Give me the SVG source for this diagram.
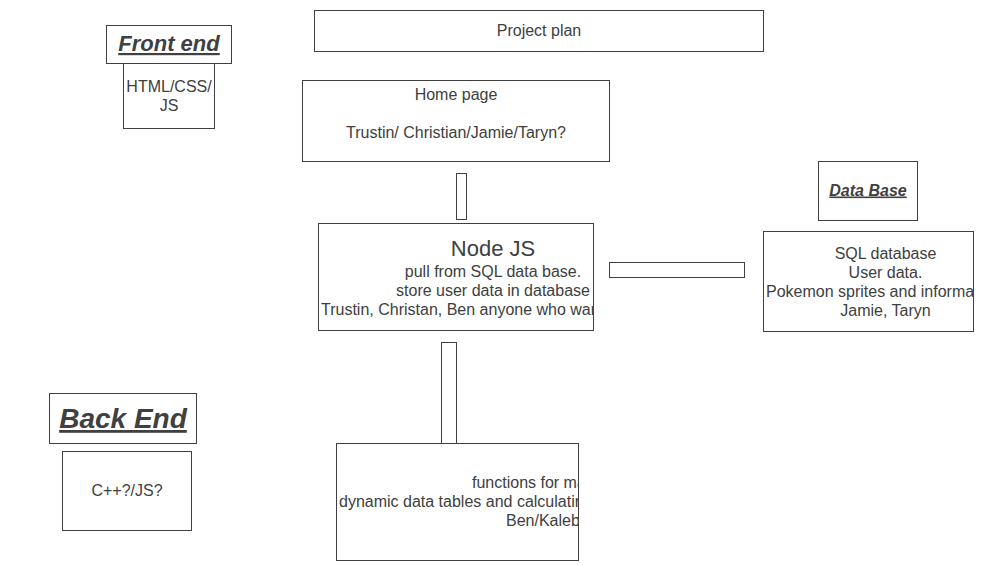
<svg xmlns="http://www.w3.org/2000/svg" width="983" height="565" viewBox="0 0 983 565">
<style>
rect{fill:#fff;stroke:#404040;stroke-width:1}
text{font-family:"Liberation Sans",Arial,sans-serif;font-size:16px;fill:#404040;text-anchor:middle}
.s{text-anchor:start}
.h{font-weight:bold;font-style:italic;text-decoration:underline}
</style>
<defs>
<clipPath id="cNode"><rect x="318" y="223" width="276" height="108"/></clipPath>
<clipPath id="cSql"><rect x="763" y="231" width="211" height="101"/></clipPath>
<clipPath id="cFn"><rect x="336" y="443" width="243" height="118"/></clipPath>
</defs>
<rect x="0" y="0" width="983" height="565" style="stroke:none"/>
<g id="connectors">
<rect x="456.5" y="173.5" width="10" height="46"/>
<rect x="609.5" y="262.5" width="135" height="15"/>
<rect x="441.5" y="342.5" width="15" height="101"/>
</g>
<g id="project-plan">
<rect x="314.5" y="10.5" width="449" height="41"/>
<text x="539" y="35.5">Project plan</text>
</g>
<g id="front-end">
<rect x="106.5" y="25.5" width="125" height="38"/>
<text class="h" x="169" y="51" style="font-size:22px">Front end</text>
</g>
<g id="html-css-js">
<rect x="123.5" y="63.5" width="91" height="65"/>
<text x="169" y="91.5">HTML/CSS/</text>
<text x="169" y="110.5">JS</text>
</g>
<g id="home-page">
<rect x="302.5" y="80.5" width="307" height="81"/>
<text x="456" y="99.5">Home page</text>
<text x="456" y="137.5">Trustin/ Christian/Jamie/Taryn?</text>
</g>
<g id="node-js">
<rect x="318.5" y="223.5" width="275" height="107"/>
<g clip-path="url(#cNode)">
<text x="493" y="256" style="font-size:22px">Node JS</text>
<text x="493" y="276.5">pull from SQL data base.</text>
<text x="493" y="295.5">store user data in database</text>
<text class="s" x="321" y="314.5">Trustin, Christan, Ben anyone who wants</text>
</g>
</g>
<g id="data-base">
<rect x="818.5" y="161.5" width="99" height="59"/>
<text class="h" x="868" y="195.5">Data Base</text>
</g>
<g id="sql-database">
<rect x="763.5" y="231.5" width="210" height="100"/>
<g clip-path="url(#cSql)">
<text x="885.5" y="258.5">SQL database</text>
<text x="885.5" y="277.5">User data.</text>
<text class="s" x="766" y="296.5">Pokemon sprites and information</text>
<text x="885.5" y="315.5">Jamie, Taryn</text>
</g>
</g>
<g id="back-end">
<rect x="49.5" y="393.5" width="147" height="50"/>
<text class="h" x="123" y="428" style="font-size:28px">Back End</text>
</g>
<g id="cpp-js">
<rect x="62.5" y="451.5" width="129" height="79"/>
<text x="127" y="495.5">C++?/JS?</text>
</g>
<g id="functions">
<rect x="336.5" y="443.5" width="242" height="117"/>
<g clip-path="url(#cFn)">
<text class="s" x="472" y="487.5">functions for making</text>
<text class="s" x="339" y="506.5">dynamic data tables and calculating</text>
<text class="s" x="506" y="525.5">Ben/Kaleb</text>
</g>
</g>
</svg>
